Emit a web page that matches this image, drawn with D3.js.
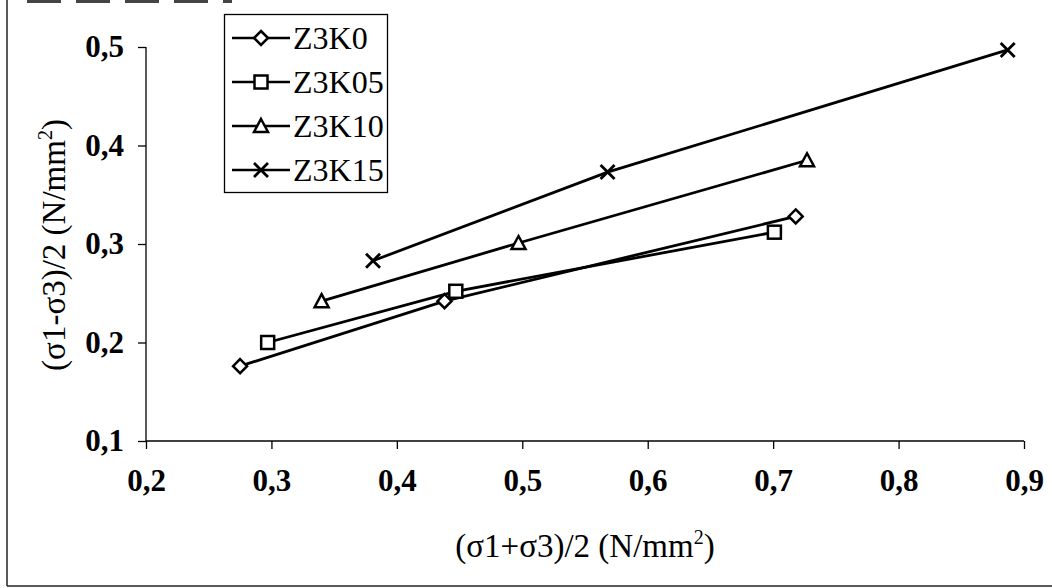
<!DOCTYPE html>
<html>
<head>
<meta charset="utf-8">
<script src="https://cdn.jsdelivr.net/npm/d3@7"></script>
<style>
  html, body { margin: 0; padding: 0; background: #fff; }
  svg { display: block; }
</style>
</head>
<body>
<svg id="chart" width="1052" height="588"></svg>
<script>
// Mohr-Coulomb stress points for four mixtures
const seriesNames = ["Z3K0", "Z3K05", "Z3K10", "Z3K15"];
const meanStress = [
  [0.275, 0.438, 0.718],
  [0.297, 0.447, 0.701],
  [0.340, 0.497, 0.727],
  [0.381, 0.568, 0.887]
];
const shearStress = [
  [0.176, 0.242, 0.328],
  [0.200, 0.252, 0.312],
  [0.242, 0.301, 0.385],
  [0.283, 0.373, 0.497]
];
const markerTypes = ["diamond", "square", "triangle", "cross"];
const xTicks = [0.2, 0.3, 0.4, 0.5, 0.6, 0.7, 0.8, 0.9];
const yTicks = [0.1, 0.2, 0.3, 0.4, 0.5];

const SERIF = "'Liberation Serif'";
const svg = d3.select("#chart");
const fmt = d => d3.format(".1f")(d).replace(".", ",");

// frame around the figure
svg.append("line").attr("x1", 7).attr("x2", 7).attr("y1", 0).attr("y2", 586)
  .attr("stroke", "#222").attr("stroke-width", 1.5);
svg.append("line").attr("x1", 7).attr("x2", 1052).attr("y1", 586).attr("y2", 586)
  .attr("stroke", "#222").attr("stroke-width", 1.5);
svg.append("line").attr("x1", 27).attr("x2", 232).attr("y1", 1.5).attr("y2", 1.5)
  .attr("stroke", "#444").attr("stroke-width", 3).attr("stroke-dasharray", "34,15");

const x = d3.scaleLinear().domain([0.2, 0.9]).range([146, 1024]);
const y = d3.scaleLinear().domain([0.1, 0.5]).range([441, 47]);

const xAxis = svg.append("g").attr("transform", "translate(0,441)")
  .call(d3.axisBottom(x).tickValues(xTicks).tickFormat(fmt).tickSize(8).tickPadding(20));
const yAxis = svg.append("g").attr("transform", "translate(146,0)")
  .call(d3.axisLeft(y).tickValues(yTicks).tickFormat(fmt).tickSize(8).tickPadding(14));

[xAxis, yAxis].forEach(g => {
  g.select(".domain").attr("stroke", "#000").attr("stroke-width", 1.3);
  g.selectAll(".tick line").attr("stroke", "#000").attr("stroke-width", 1.3);
  g.selectAll(".tick text")
    .style("font-family", SERIF)
    .style("font-size", "31px").style("font-weight", "bold").attr("fill", "#000");
});
xAxis.select(".domain").attr("d", "M146,0H1024");
yAxis.select(".domain").attr("d", "M0,47V441");

// axis titles
const xTitle = svg.append("text").attr("x", 585).attr("y", 557)
  .attr("text-anchor", "middle").style("font-family", SERIF).style("font-size", "33px");
xTitle.append("tspan").text("(σ1+σ3)/2 (N/mm");
xTitle.append("tspan").attr("dy", -13).style("font-size", "20px").text("2");
xTitle.append("tspan").attr("dy", 13).text(")");

const yTitle = svg.append("text").attr("transform", "translate(65,245) rotate(-90)")
  .attr("text-anchor", "middle").style("font-family", SERIF).style("font-size", "33px");
yTitle.append("tspan").text("(σ1-σ3)/2 (N/mm");
yTitle.append("tspan").attr("dy", -13).style("font-size", "20px").text("2");
yTitle.append("tspan").attr("dy", 13).text(")");

// marker shapes
function drawMarker(g, type, cx, cy) {
  const s = 7;
  if (type === "diamond") {
    g.append("path").attr("d", `M${cx},${cy - s}L${cx + s},${cy}L${cx},${cy + s}L${cx - s},${cy}Z`)
      .attr("fill", "#fff").attr("stroke", "#000").attr("stroke-width", 2.5);
  } else if (type === "square") {
    g.append("rect").attr("x", cx - 6.5).attr("y", cy - 6.5).attr("width", 13).attr("height", 13)
      .attr("fill", "#fff").attr("stroke", "#000").attr("stroke-width", 2.5);
  } else if (type === "triangle") {
    g.append("path").attr("d", `M${cx},${cy - 7}L${cx + 7},${cy + 6}L${cx - 7},${cy + 6}Z`)
      .attr("fill", "#fff").attr("stroke", "#000").attr("stroke-width", 2.5);
  } else {
    g.append("path").attr("d", `M${cx - 7},${cy - 7}L${cx + 7},${cy + 7}M${cx - 7},${cy + 7}L${cx + 7},${cy - 7}`)
      .attr("fill", "none").attr("stroke", "#000").attr("stroke-width", 2.8);
  }
}

const line = d3.line().x(d => x(d[0])).y(d => y(d[1]));
seriesNames.forEach((name, i) => {
  const pts = meanStress[i].map((v, j) => [v, shearStress[i][j]]);
  const g = svg.append("g");
  g.append("path").attr("d", line(pts)).attr("fill", "none")
    .attr("stroke", "#000").attr("stroke-width", 2.8);
  pts.forEach(p => drawMarker(g, markerTypes[i], x(p[0]), y(p[1])));
});

// legend
const legend = svg.append("g");
legend.append("rect").attr("x", 224.5).attr("y", 14.5).attr("width", 163).attr("height", 178)
  .attr("fill", "#fff").attr("stroke", "#000").attr("stroke-width", 1.3);
seriesNames.forEach((name, i) => {
  const ly = 38 + i * 44;
  const g = legend.append("g");
  g.append("line").attr("x1", 232).attr("x2", 290).attr("y1", ly).attr("y2", ly)
    .attr("stroke", "#000").attr("stroke-width", 2.5);
  drawMarker(g, markerTypes[i], 261, ly);
  g.append("text").attr("x", 293).attr("y", ly + 11)
    .style("font-family", SERIF).style("font-size", "32px").text(name);
});
</script>
</body>
</html>
